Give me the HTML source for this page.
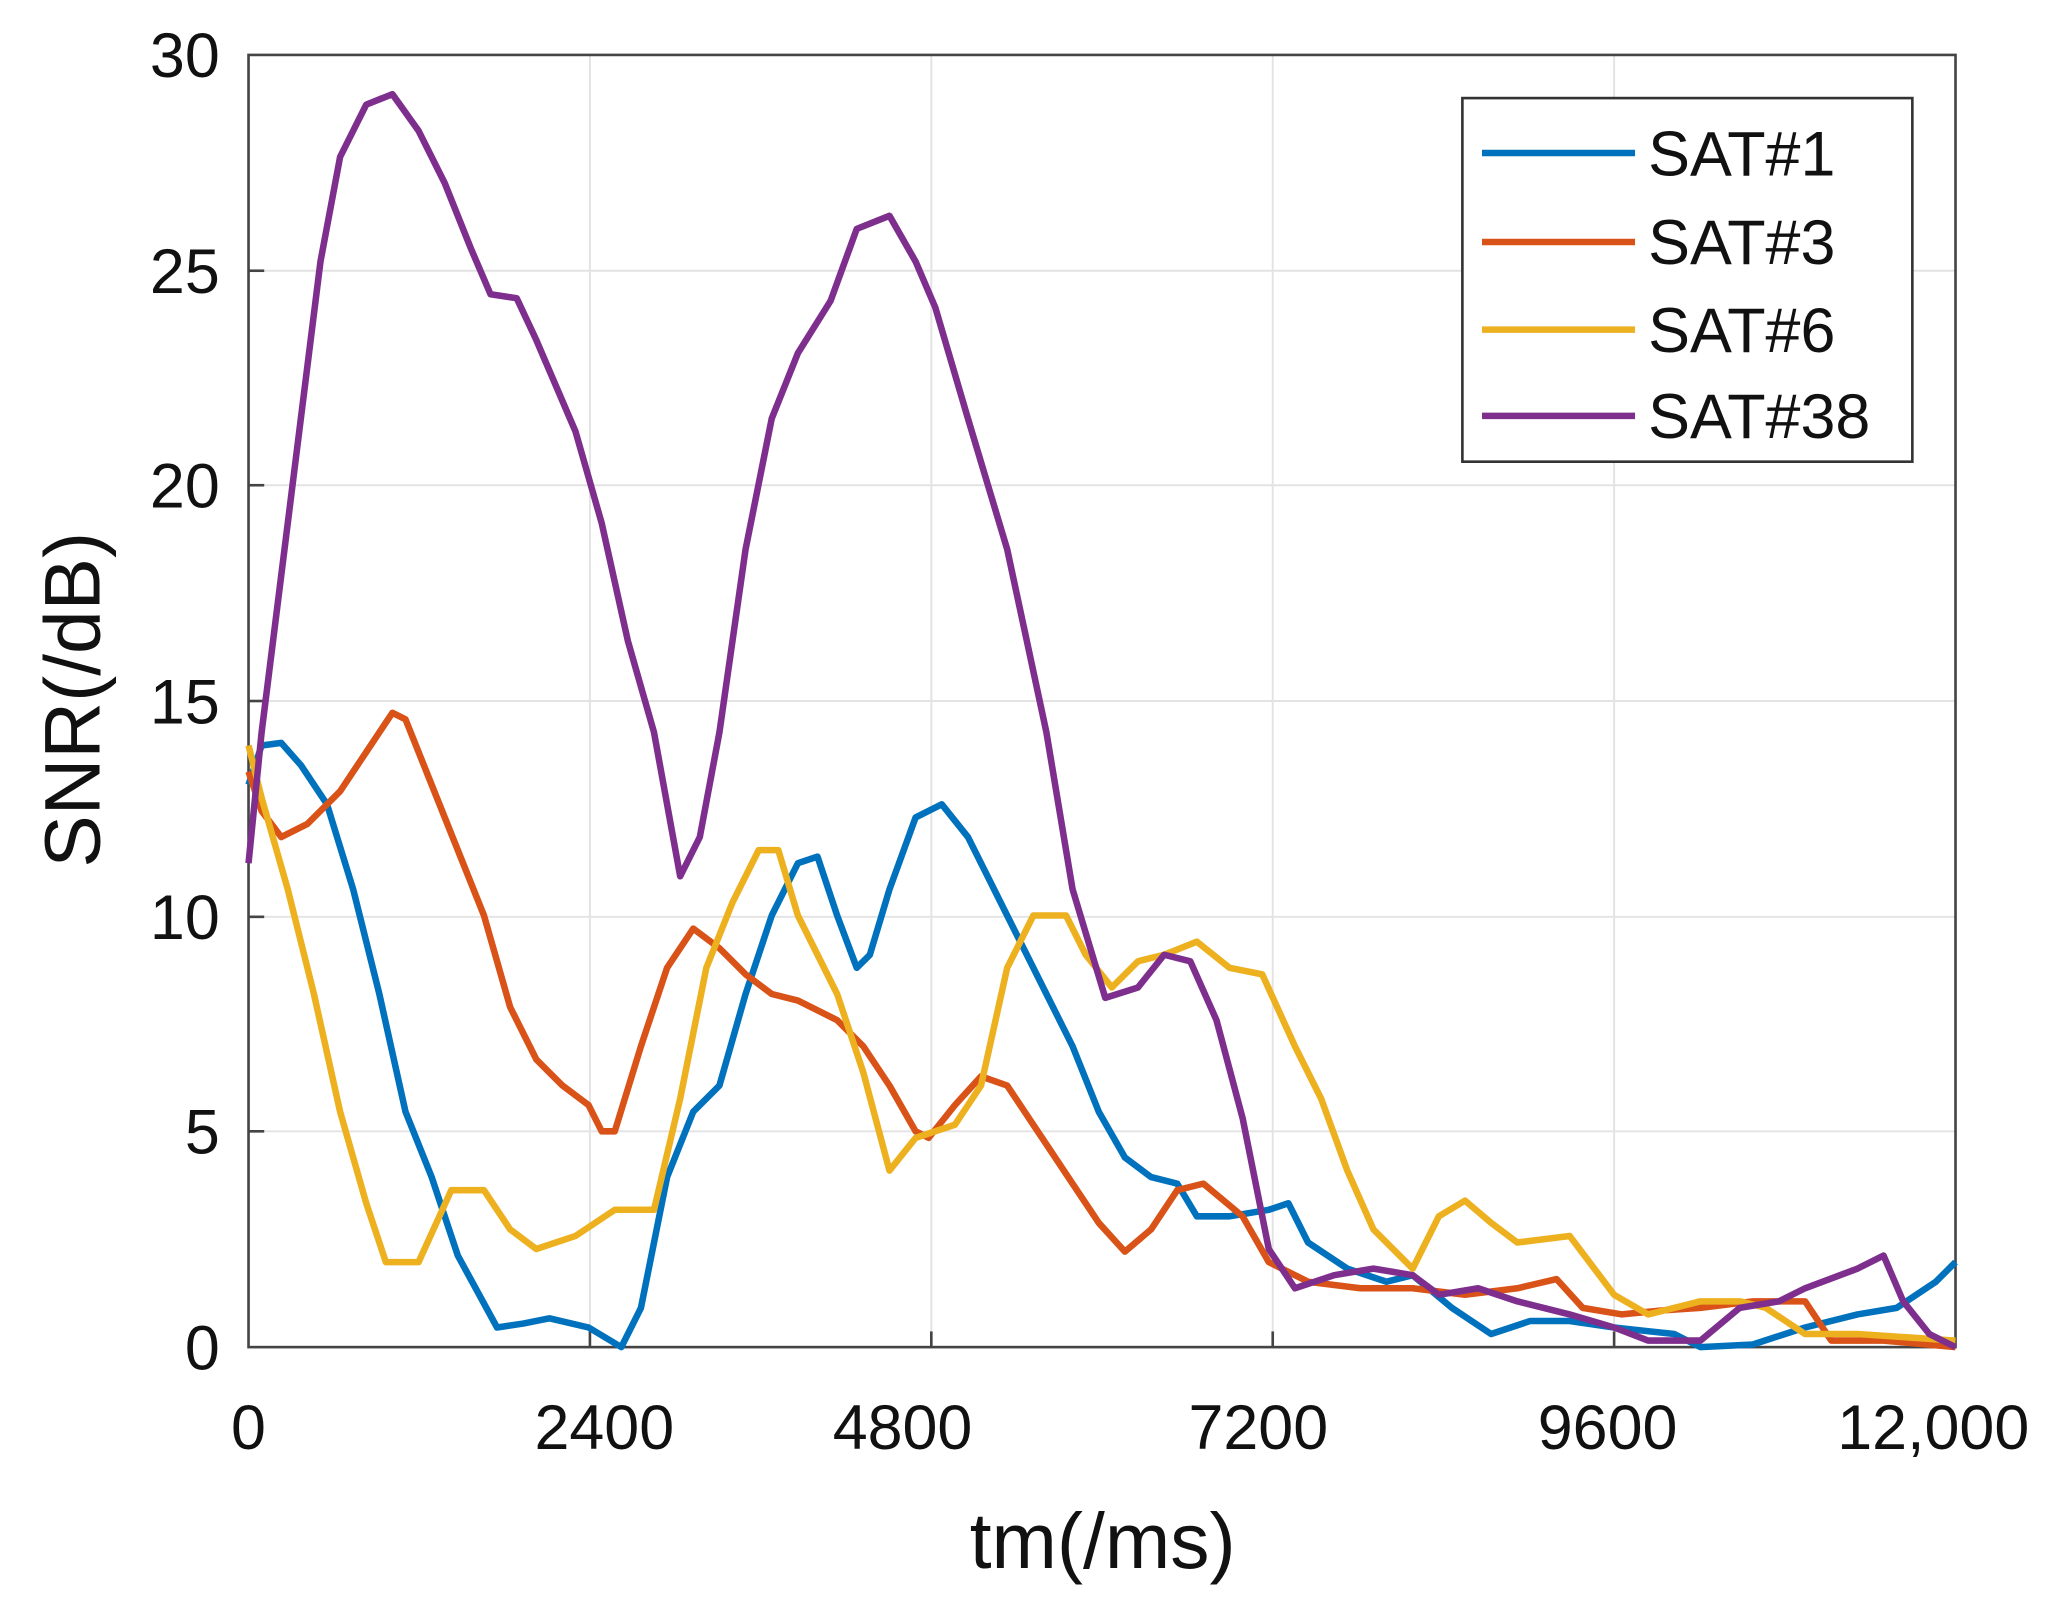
<!DOCTYPE html>
<html><head><meta charset="utf-8"><style>html,body{margin:0;padding:0;background:#fff}svg{display:block}</style></head>
<body>
<svg width="2051" height="1610" viewBox="0 0 1568 1231" preserveAspectRatio="none" xmlns="http://www.w3.org/2000/svg" font-family="Liberation Sans, sans-serif">
<rect width="1568" height="1231" fill="#fff"/>
<g stroke="#e3e3e3" stroke-width="1.5">
<line x1="451" y1="42" x2="451" y2="1030"/><line x1="712" y1="42" x2="712" y2="1030"/><line x1="973" y1="42" x2="973" y2="1030"/><line x1="1234" y1="42" x2="1234" y2="1030"/>
<line x1="190" y1="207" x2="1495" y2="207"/><line x1="190" y1="371" x2="1495" y2="371"/><line x1="190" y1="536" x2="1495" y2="536"/><line x1="190" y1="701" x2="1495" y2="701"/><line x1="190" y1="865" x2="1495" y2="865"/>
</g>
<rect x="190" y="42" width="1305" height="988" fill="none" stroke="#444" stroke-width="2"/>
<g stroke="#444" stroke-width="2">
<line x1="451" y1="1030" x2="451" y2="1018"/><line x1="712" y1="1030" x2="712" y2="1018"/><line x1="973" y1="1030" x2="973" y2="1018"/><line x1="1234" y1="1030" x2="1234" y2="1018"/>
<line x1="190" y1="207" x2="202" y2="207"/><line x1="190" y1="371" x2="202" y2="371"/><line x1="190" y1="536" x2="202" y2="536"/><line x1="190" y1="701" x2="202" y2="701"/><line x1="190" y1="865" x2="202" y2="865"/>
</g>
<g font-size="48" fill="#111" text-anchor="end">
<text x="168" y="1047">0</text><text x="168" y="882">5</text><text x="168" y="718">10</text><text x="168" y="553">15</text><text x="168" y="388">20</text><text x="168" y="224">25</text><text x="168" y="59">30</text>
</g>
<g font-size="48" fill="#111" text-anchor="middle">
<text x="190" y="1108">0</text><text x="462" y="1108">2400</text><text x="690" y="1108">4800</text><text x="962" y="1108">7200</text><text x="1229" y="1108">9600</text><text x="1478" y="1108">12,000</text>
</g>
<text x="843" y="1199" font-size="60" text-anchor="middle" fill="#111">tm(/ms)</text>
<text transform="translate(76,535) rotate(-90)" font-size="60" text-anchor="middle" fill="#111">SNR(/dB)</text>
<g fill="none" stroke-width="5" stroke-linejoin="round">
<polyline stroke="#0072BD" points="190,600 200,570 215,568 230,585 250,615 270,680 290,760 310,850 330,900 350,960 380,1015 400,1012 420,1008 450,1015 475,1030 490,1000 510,900 530,850 550,830 570,760 590,700 610,660 625,655 640,700 655,740 665,730 680,680 700,625 720,615 740,640 760,680 780,720 800,760 820,800 840,850 860,885 880,900 900,905 915,930 940,930 970,925 985,920 1000,950 1030,970 1060,980 1080,975 1110,1000 1140,1020 1170,1010 1200,1010 1234,1015 1280,1020 1300,1030 1340,1028 1380,1015 1420,1005 1450,1000 1480,980 1495,965"/>
<polyline stroke="#D95319" points="190,590 200,620 215,640 235,630 260,605 280,575 300,545 310,550 330,600 350,650 370,700 390,770 410,810 430,830 450,845 460,865 470,865 490,800 510,740 530,710 550,725 570,745 590,760 610,765 640,780 660,800 680,830 700,865 710,870 730,845 750,823 770,830 790,860 820,905 840,935 860,957 880,940 900,910 920,905 950,930 970,965 1000,980 1040,985 1080,985 1120,990 1160,985 1190,978 1210,1000 1240,1005 1270,1002 1300,1000 1340,995 1380,995 1400,1025 1440,1025 1495,1030"/>
<polyline stroke="#EDB120" points="190,570 200,610 220,680 240,760 260,850 280,920 295,965 320,965 345,910 370,910 390,940 410,955 440,945 470,925 500,925 520,840 540,740 560,690 580,650 595,650 610,700 640,760 660,820 680,895 700,870 730,860 750,830 770,740 790,700 815,700 830,730 850,755 870,735 890,730 915,720 940,740 965,745 990,800 1010,840 1030,895 1050,940 1080,970 1100,930 1120,918 1140,935 1160,950 1200,945 1234,990 1260,1005 1300,995 1330,995 1350,1000 1380,1020 1420,1020 1495,1025"/>
<polyline stroke="#7E2F8E" points="190,660 200,560 215,440 230,320 245,200 260,120 280,80 300,72 320,100 340,140 360,190 375,225 395,228 410,260 440,330 460,400 480,490 500,560 520,670 535,640 550,560 570,420 590,320 610,270 635,230 655,175 680,165 700,200 715,235 740,320 770,420 800,560 820,680 845,763 870,755 890,730 910,735 930,780 950,855 970,955 990,985 1020,975 1050,970 1080,975 1100,990 1130,985 1160,995 1200,1005 1234,1015 1260,1025 1300,1025 1330,1000 1360,995 1380,985 1420,970 1440,960 1455,995 1475,1020 1495,1030"/>
</g>
<rect x="1118" y="75" width="344" height="278" fill="#fff" stroke="#333" stroke-width="2"/>
<g stroke-width="5">
<line x1="1133" y1="117" x2="1250" y2="117" stroke="#0072BD"/>
<line x1="1133" y1="185" x2="1250" y2="185" stroke="#D95319"/>
<line x1="1133" y1="252" x2="1250" y2="252" stroke="#EDB120"/>
<line x1="1133" y1="318" x2="1250" y2="318" stroke="#7E2F8E"/>
</g>
<g font-size="48" fill="#111">
<text x="1260" y="134">SAT#1</text><text x="1260" y="202">SAT#3</text><text x="1260" y="269">SAT#6</text><text x="1260" y="335">SAT#38</text>
</g>
</svg>
</body></html>
